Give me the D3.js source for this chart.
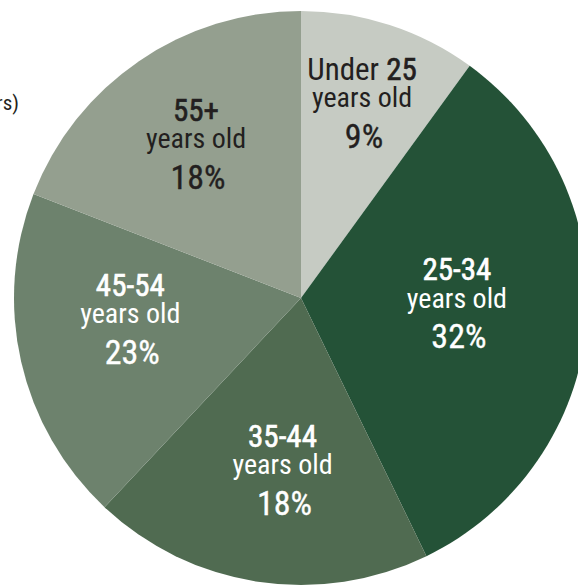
<!DOCTYPE html>
<html>
<head>
<meta charset="utf-8">
<script src="https://cdn.jsdelivr.net/npm/d3@7"></script>
<style>
  html, body { margin: 0; padding: 0; background: #ffffff; }
  svg { display: block; }
  text { font-family: "Liberation Sans Narrow", "Arial Narrow", "Roboto Condensed", "DejaVu Sans Condensed", sans-serif; }
</style>
</head>
<body>
<svg id="chart" width="578" height="585"></svg>
<script>
// ---- data ----
const groups = ["Under 25", "25-34", "35-44", "45-54", "55+"];
const headerPrefix = ["Under ", "", "", "", ""];
const headerBold = ["25", "25-34", "35-44", "45-54", "55+"];
const subLabels = ["years old", "years old", "years old", "years old", "years old"];
const percentLabels = ["9%", "32%", "18%", "23%", "18%"];
// slice sizes as drawn (share of the full circle)
const sliceShares = [10, 32.8, 19.2, 18.9, 19.1];
const sliceColors = ["#c6cbc3", "#245237", "#506b51", "#6d826d", "#949f8f"];
const textColors = ["#231f20", "#ffffff", "#ffffff", "#ffffff", "#231f20"];
const titleFragment = "rs)";

// ---- layout ----
const W = 578, H = 585;
const cx = 301, cy = 298, R = 287;
const labelLayout = [ // polar placement of each label block: radius, angle tweak (deg)
  { r: 204, da: -0.6 },
  { r: 156, da: -3 },
  { r: 173, da: -2.5 },
  { r: 172, da: 5.7 },
  { r: 186, da: 0 }
];

const svg = d3.select("#chart");

svg.append("text")
  .attr("x", 19).attr("y", 110)
  .attr("text-anchor", "end")
  .attr("font-size", 21)
  .attr("fill", "#231f20")
  .text(titleFragment);

const pie = d3.pie().sort(null).value(d => d).startAngle(0).endAngle(2 * Math.PI);
const arcs = pie(sliceShares);
const arc = d3.arc().innerRadius(0).outerRadius(R);

const g = svg.append("g").attr("transform", `translate(${cx},${cy})`);

g.selectAll("path.slice")
  .data(arcs)
  .join("path")
  .attr("class", "slice")
  .attr("d", arc)
  .attr("fill", (d, i) => sliceColors[i]);

const labels = g.selectAll("text.label")
  .data(arcs)
  .join("text")
  .attr("class", "label")
  .attr("transform", (d, i) => {
    const a = (d.startAngle + d.endAngle) / 2 + labelLayout[i].da * Math.PI / 180;
    const r = labelLayout[i].r;
    return `translate(${r * Math.sin(a)},${-r * Math.cos(a)})`;
  })
  .attr("fill", (d, i) => textColors[i])
  .attr("text-anchor", "middle");

// header line: optional normal prefix followed by medium-weight part
const head = labels.append("tspan")
  .attr("x", 0).attr("y", -23.5)
  .attr("font-size", 31);
head.append("tspan")
  .text((d, i) => headerPrefix[i]);
head.append("tspan")
  .attr("stroke", (d, i) => textColors[i])
  .attr("stroke-width", 0.6)
  .text((d, i) => headerBold[i]);

labels.append("tspan")
  .attr("x", 0).attr("y", 4)
  .attr("font-size", 28)
  .text((d, i) => subLabels[i]);

labels.append("tspan")
  .attr("x", 2).attr("y", 44.5)
  .attr("font-size", 34)
  .attr("stroke", (d, i) => textColors[i])
  .attr("stroke-width", 0.35)
  .text((d, i) => percentLabels[i]);
</script>
</body>
</html>
